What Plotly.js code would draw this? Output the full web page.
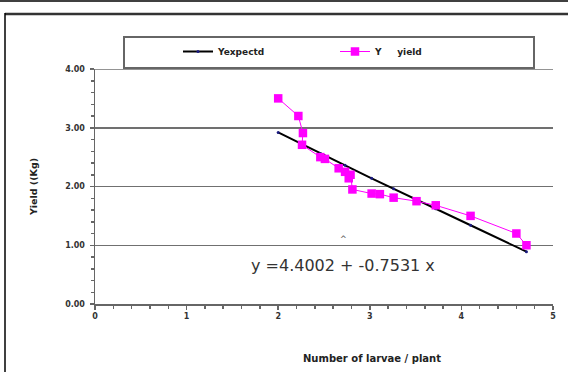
<!DOCTYPE html>
<html><head><meta charset="utf-8">
<script src="https://cdn.plot.ly/plotly-3.0.1.min.js"></script>
<style>html,body{margin:0;padding:0;background:#fff}#c{width:568px;height:372px}</style>
</head><body><div id="c"></div>
<script>
// Observed data: larvae per plant vs yield (Kg)
var larvae = [2.00, 2.22, 2.27, 2.26, 2.46, 2.51, 2.66, 2.73, 2.77, 2.79, 2.81, 3.02, 3.11, 3.26, 3.51, 3.72, 4.10, 4.60, 4.71];
var yieldKg = [3.50, 3.20, 2.91, 2.71, 2.50, 2.47, 2.31, 2.25, 2.14, 2.20, 1.95, 1.88, 1.87, 1.81, 1.75, 1.68, 1.50, 1.20, 1.00];
// Expected (regression) values
var expX = [2.00, 2.46, 2.73, 3.02, 3.26, 3.72, 4.10, 4.71];
var expY = [2.92, 2.56, 2.36, 2.14, 1.96, 1.62, 1.34, 0.89];
var yTicks = [0, 1, 2, 3, 4];
var xTicks = [0, 1, 2, 3, 4, 5];
var equationText = 'y =4.4002 + -0.7531 x';

var W = 458, H = 235, L = 95, T = 69;
function px(p){ return (p - L) / W; }
function py(q){ return (T + H - q) / H; }

var FAM = 'DejaVu Sans, Verdana, sans-serif';
var traces = [
  {x: expX, y: expY, type: 'scatter', mode: 'lines+markers', name: 'Yexpectd',
   line: {color: '#000000', width: 2}, marker: {color: '#1a1a80', size: 3}},
  {x: larvae, y: yieldKg, type: 'scatter', mode: 'lines+markers', name: 'Y\u00a0\u00a0\u00a0\u00a0\u00a0yield',
   line: {color: '#ff00ff', width: 1}, marker: {color: '#ff00ff', size: 8.5, symbol: 'square'}}
];

var tickFont = {family: FAM, size: 8, color: '#333', weight: 'bold'};
var layout = {
  width: 568, height: 372,
  margin: {l: L, r: 568 - L - W, t: T, b: 372 - T - H},
  paper_bgcolor: '#fff', plot_bgcolor: '#fff',
  showlegend: true,
  legend: {orientation: 'h', x: px(178), y: py(37), xanchor: 'left', yanchor: 'top',
    bgcolor: 'rgba(0,0,0,0)', borderwidth: 0, entrywidth: 112,
    font: {family: FAM, size: 9, color: '#222', weight: 'bold'}},
  xaxis: {range: [0, 5], tickvals: xTicks, ticktext: xTicks.map(String),
    showgrid: false, zeroline: false, showline: true, linecolor: '#666', linewidth: 1.5,
    ticks: 'outside', ticklen: 4, tickcolor: '#666', tickwidth: 1.5,
    minor: {dtick: 0.2, ticks: 'outside', ticklen: 3, tickcolor: '#666', showgrid: false},
    tickfont: tickFont},
  yaxis: {range: [0, 4], tickvals: yTicks, ticktext: yTicks.map(function(v){return v.toFixed(2);}),
    showgrid: true, gridcolor: '#707070', gridwidth: 1.5, zeroline: false,
    showline: true, linecolor: '#666', linewidth: 1.5,
    ticks: 'outside', ticklen: 4, tickcolor: '#666', tickwidth: 1.5, ticklabelstandoff: 3,
    minor: {dtick: 0.2, ticks: 'outside', ticklen: 3, tickcolor: '#666', showgrid: false},
    tickfont: tickFont,
    title: {text: 'Yield ((Kg)', standoff: 26,
      font: {family: FAM, size: 9.5, color: '#222', weight: 'bold'}}},
  shapes: [
    {type: 'line', xref: 'paper', yref: 'paper', x0: px(0), x1: px(568), y0: py(1), y1: py(1), line: {color: '#000', width: 1.5}},
    {type: 'line', xref: 'paper', yref: 'paper', x0: px(5), x1: px(568), y0: py(14), y1: py(14), line: {color: '#333', width: 2.5}},
    {type: 'line', xref: 'paper', yref: 'paper', x0: px(5), x1: px(5), y0: py(13), y1: py(372), line: {color: '#000', width: 1.5}},
    {type: 'rect', xref: 'paper', yref: 'paper', x0: px(124), x1: px(534), y0: py(68), y1: py(37), line: {color: '#666', width: 2}},
    {type: 'line', xref: 'paper', yref: 'y', x0: px(91), x1: 1, y0: 4, y1: 4, line: {color: '#707070', width: 1.5}}
  ],
  annotations: [
    {x: 2.71, y: 1.09, xref: 'x', yref: 'y', text: '^', showarrow: false,
     font: {family: FAM, size: 8, color: '#555'}},
    {x: 2.71, y: 0.66, xref: 'x', yref: 'y', text: equationText, showarrow: false,
     font: {family: FAM, size: 16, color: '#333'}},
    {x: px(372), y: py(358), xref: 'paper', yref: 'paper', text: 'Number of larvae / plant', showarrow: false,
     yanchor: 'middle', font: {family: FAM, size: 10, color: '#222', weight: 'bold'}}
  ]
};
Plotly.newPlot('c', traces, layout, {displayModeBar: false, staticPlot: true});
</script></body></html>
